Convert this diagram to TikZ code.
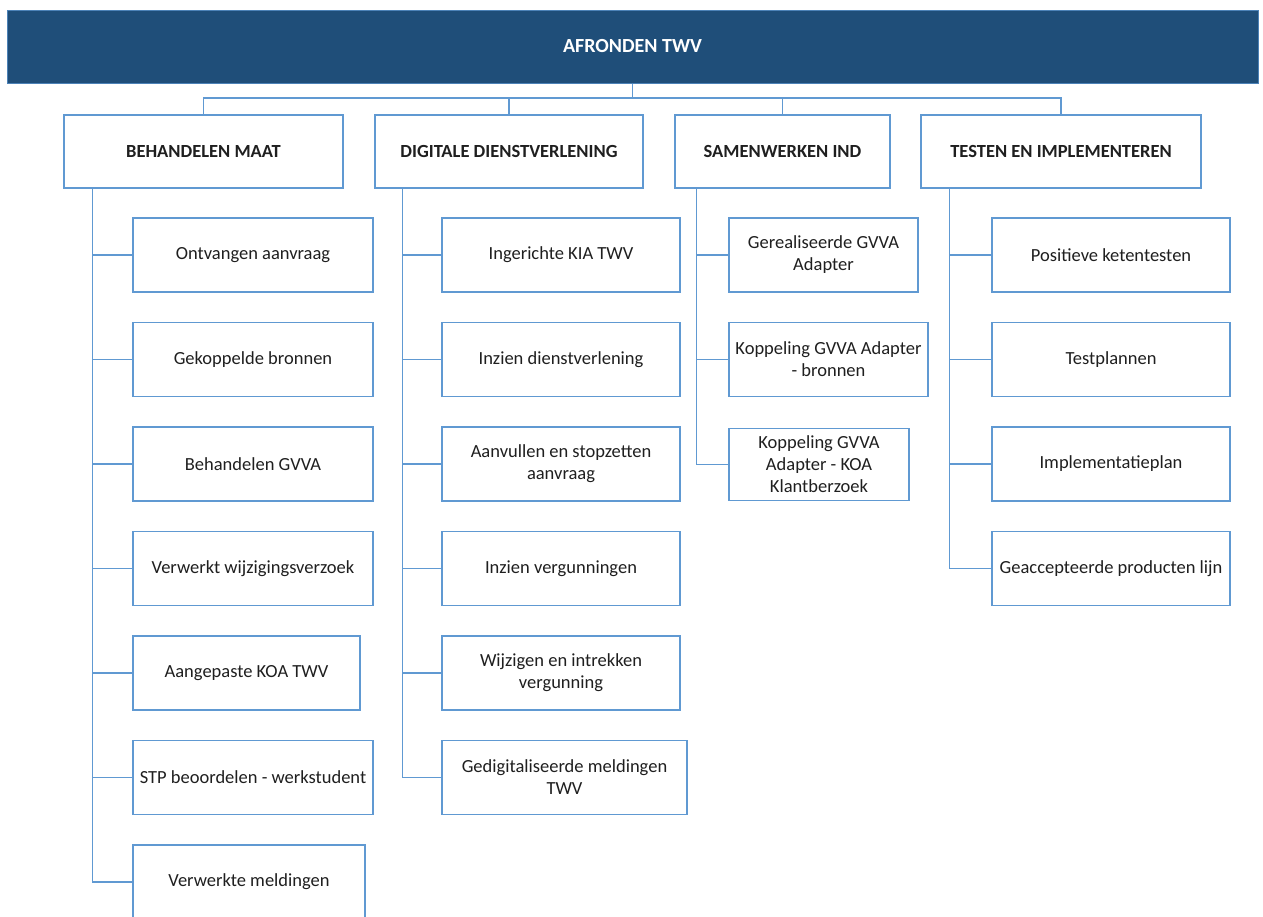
\documentclass[tikz,border=0pt]{standalone}
\usepackage{fontspec}
\setmainfont{Carlito}
\definecolor{barblue}{RGB}{31,78,121}
\definecolor{lineblue}{RGB}{96,153,210}

\begin{document}
\begin{tikzpicture}[x=1pt,y=-1pt,
    box/.style={draw=lineblue,line width=1.3pt,fill=white,align=center,
                inner sep=0pt,minimum height=74pt,text=black!88,
                font=\fontsize{18.5}{22}\selectfont},
    link/.style={draw=lineblue,line width=1.3pt}]
\clip (0,0) rectangle (1263,916);
\node[fill=barblue,draw=lineblue!70!barblue,line width=1pt,text=white,
      minimum width=1251pt,minimum height=73pt,
      font=\fontsize{20}{24}\selectfont\bfseries] (A) at (632.5,46.5) {AFRONDEN TWV};
\begin{scope}[every node/.style={box,minimum height=73pt,font=\fontsize{18.5}{22}\selectfont\bfseries}]
    \node[minimum width=279pt] (B1) at (203.5,151.5) {BEHANDELEN MAAT};
    \node[minimum width=268pt] (B2) at (509,151.5) {DIGITALE DIENSTVERLENING};
    \node[minimum width=215pt] (B3) at (782.5,151.5) {SAMENWERKEN IND};
    \node[minimum width=280pt] (B4) at (1061,151.5) {TESTEN EN IMPLEMENTEREN};
\end{scope}
\begin{scope}[every node/.style={box}]
    \node[minimum width=240pt] (C1) at (253,255) {Ontvangen aanvraag};
    \node[minimum width=240pt] (C2) at (253,359.5) {Gekoppelde bronnen};
    \node[minimum width=240pt] (C3) at (253,464) {Behandelen GVVA};
    \node[minimum width=240pt] (C4) at (253,568.5) {Verwerkt wijzigingsverzoek};
    \node[minimum width=227pt] (C5) at (246.5,673) {Aangepaste KOA TWV};
    \node[minimum width=240pt] (C6) at (253,777.5) {STP beoordelen - werkstudent};
    \node[minimum width=232pt] (C7) at (249,882) {Verwerkte meldingen};
    \node[minimum width=238pt] (D1) at (561,255) {Ingerichte KIA TWV};
    \node[minimum width=238pt] (D2) at (561,359.5) {Inzien dienstverlening};
    \node[minimum width=238pt] (D3) at (561,464) {Aanvullen en stopzetten\\aanvraag};
    \node[minimum width=238pt] (D4) at (561,568.5) {Inzien vergunningen};
    \node[minimum width=238pt] (D5) at (561,673) {Wijzigen en intrekken\\vergunning};
    \node[minimum width=245pt] (D6) at (564.5,777.5) {Gedigitaliseerde meldingen\\TWV};
    \node[minimum width=189pt] (E1) at (823.5,255) {Gerealiseerde GVVA\\Adapter};
    \node[minimum width=199pt] (E2) at (828.5,359.5) {Koppeling GVVA Adapter\\- bronnen};
    \node[minimum width=180pt,minimum height=72pt] (E3) at (819,464.5) {Koppeling GVVA\\Adapter - KOA\\Klantberzoek};
    \node[minimum width=238pt] (F1) at (1111,255) {Positieve ketentesten};
    \node[minimum width=238pt] (F2) at (1111,359.5) {Testplannen};
    \node[minimum width=238pt] (F3) at (1111,464) {Implementatieplan};
    \node[minimum width=238pt] (F4) at (1111,568.5) {Geaccepteerde producten lijn};
\end{scope}
% connectors
\coordinate (hub) at (632.5,98);
\coordinate (S1) at ([xshift=29pt]B1.south west);
\coordinate (S2) at ([xshift=28pt]B2.south west);
\coordinate (S3) at ([xshift=22pt]B3.south west);
\coordinate (S4) at ([xshift=29pt]B4.south west);
\draw[link] (A.south) -- (hub);
\foreach \n in {B1,B2,B3,B4}
    \draw[link] (hub) -| (\n.north);
\foreach \n in {C1,C2,C3,C4,C5,C6,C7}
    \draw[link] (S1) |- (\n.west);
\foreach \n in {D1,D2,D3,D4,D5,D6}
    \draw[link] (S2) |- (\n.west);
\foreach \n in {E1,E2,E3}
    \draw[link] (S3) |- (\n.west);
\foreach \n in {F1,F2,F3,F4}
    \draw[link] (S4) |- (\n.west);
\end{tikzpicture}
\end{document}
